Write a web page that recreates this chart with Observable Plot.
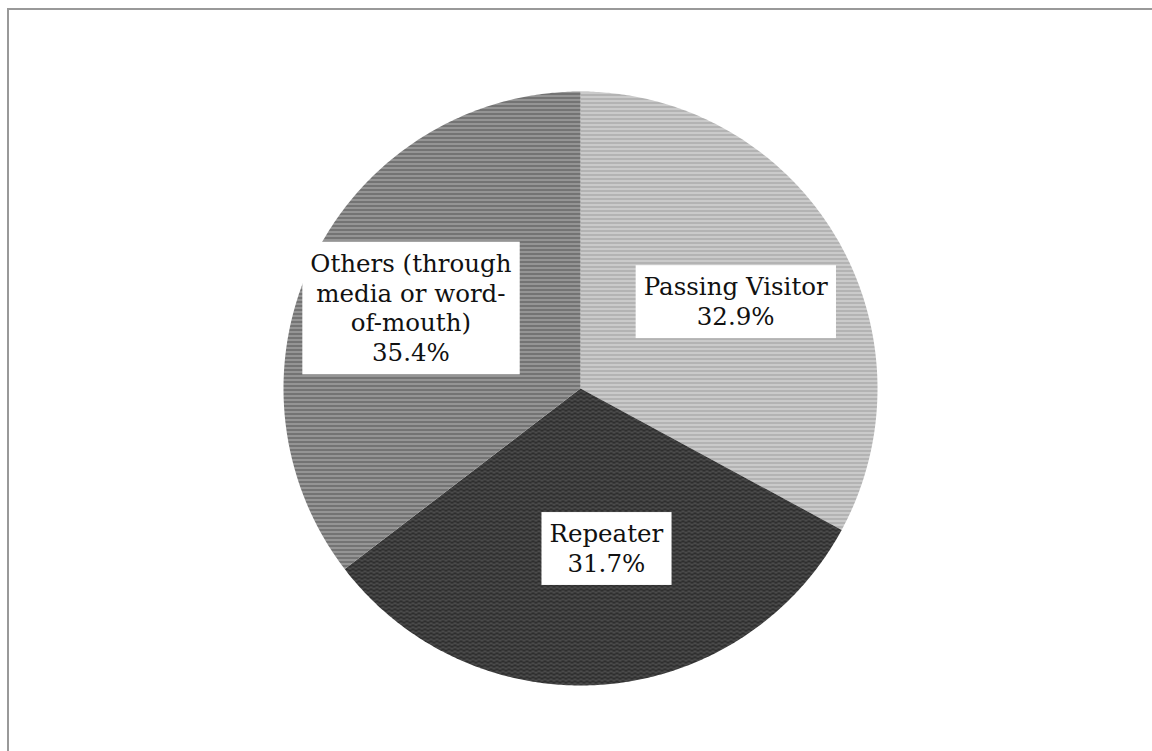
<!DOCTYPE html>
<html>
<head>
<meta charset="utf-8">
<script src="https://cdn.jsdelivr.net/npm/d3@7"></script>
<script src="https://cdn.jsdelivr.net/npm/@observablehq/plot@0.6"></script>
<style>
  html, body { margin: 0; padding: 0; background: #fff; overflow: hidden; }
  #frame { position: absolute; left: 7px; top: 8px; width: 1200px; height: 800px; border-left: 2px solid #999; border-top: 2px solid #999; box-sizing: border-box; pointer-events: none; }
  #chart { position: absolute; left: 0; top: 0; }
</style>
</head>
<body>
<svg width="0" height="0" style="position:absolute">
  <defs>
    <pattern id="pat-light" width="8" height="4" patternUnits="userSpaceOnUse">
      <rect width="8" height="4" fill="#bdbdbd"/>
      <rect y="0" width="8" height="1" fill="#d6d6d6"/>
      <rect y="2" width="8" height="1" fill="#a9a9a9"/>
    </pattern>
    <pattern id="pat-dark" width="6" height="4" patternUnits="userSpaceOnUse">
      <rect width="6" height="4" fill="#3a3a3a"/>
      <rect y="0" width="3" height="1" fill="#5c5c5c"/>
      <rect x="3" y="2" width="3" height="1" fill="#5c5c5c"/>
      <rect y="1" width="6" height="1" fill="#222"/>
    </pattern>
    <pattern id="pat-mid" width="8" height="4" patternUnits="userSpaceOnUse">
      <rect width="8" height="4" fill="#8a8a8a"/>
      <rect y="1" width="8" height="1" fill="#5e5e5e"/>
      <rect y="3" width="8" height="1" fill="#a0a0a0"/>
    </pattern>
  </defs>
</svg>
<div id="frame"></div>
<div id="chart"></div>
<script>
// ---- data ----
const categories = ["Passing Visitor", "Repeater", "Others (through media or word-of-mouth)"];
const labelTexts = ["Passing Visitor", "Repeater", "Others (through\nmedia or word-\nof-mouth)"];
const shares = [32.9, 31.7, 35.4];
const patterns = ["url(#pat-light)", "url(#pat-dark)", "url(#pat-mid)"];

// ---- layout (styles) ----
const W = 1152, H = 751;
const cx = 580, cy = 388, R = 297;
const labelRadius = 0.6;
const labelNudge = [[0.007, -0.011], [0.04, 0.063], [-0.033, 0.009]]; // offsets in radius units

const rows = categories.map((c, i) => ({category: c, label: labelTexts[i], value: shares[i], pattern: patterns[i]}));
const arcs = d3.pie().sort(null).value(d => d.value)(rows);

// slice polygons in unit-radius coordinates
const polys = [];
arcs.forEach(a => {
  const n = Math.max(2, Math.ceil((a.endAngle - a.startAngle) / (Math.PI / 360)));
  polys.push({category: a.data.category, pattern: a.data.pattern, x: 0, y: 0});
  for (let k = 0; k <= n; k++) {
    const t = a.startAngle + (a.endAngle - a.startAngle) * k / n;
    polys.push({category: a.data.category, pattern: a.data.pattern, x: Math.sin(t), y: Math.cos(t)});
  }
  polys.push({category: a.data.category, pattern: a.data.pattern, x: 0, y: 0});
});

const labels = arcs.map((a, i) => {
  const m = (a.startAngle + a.endAngle) / 2;
  return {
    text: a.data.label + "\n" + a.data.value.toFixed(1) + "%",
    x: labelRadius * Math.sin(m) + labelNudge[i][0],
    y: labelRadius * Math.cos(m) + labelNudge[i][1]
  };
});

const plot = Plot.plot({
  width: W,
  height: H,
  margin: 0,
  x: {domain: [-1, 1], range: [cx - R, cx + R], axis: null},
  y: {domain: [-1, 1], range: [cy + R, cy - R], axis: null},
  color: {type: "identity"},
  style: {background: "transparent"},
  marks: [
    Plot.line(polys, {x: "x", y: "y", z: "category", fill: "pattern", stroke: null, curve: "linear"}),
    Plot.text(labels, {
      x: "x", y: "y", text: "text",
      fontFamily: "DejaVu Serif", fontSize: 24.5, lineHeight: 1.22,
      fill: "#111", textAnchor: "middle", className: "pie-labels"
    })
  ]
});
document.getElementById("chart").appendChild(plot);

// white boxes behind the labels, sized from the rendered text
const padX = 8, padY = 7;
d3.select(plot).selectAll("g.pie-labels text").each(function () {
  const bb = this.getBBox();
  const rect = document.createElementNS("http://www.w3.org/2000/svg", "rect");
  rect.setAttribute("x", bb.x - padX);
  rect.setAttribute("y", bb.y - padY);
  rect.setAttribute("width", bb.width + 2 * padX);
  rect.setAttribute("height", bb.height + 2 * padY);
  rect.setAttribute("fill", "#fff");
  const tr = this.getAttribute("transform");
  if (tr) rect.setAttribute("transform", tr);
  this.parentNode.insertBefore(rect, this);
});
</script>
</body>
</html>
